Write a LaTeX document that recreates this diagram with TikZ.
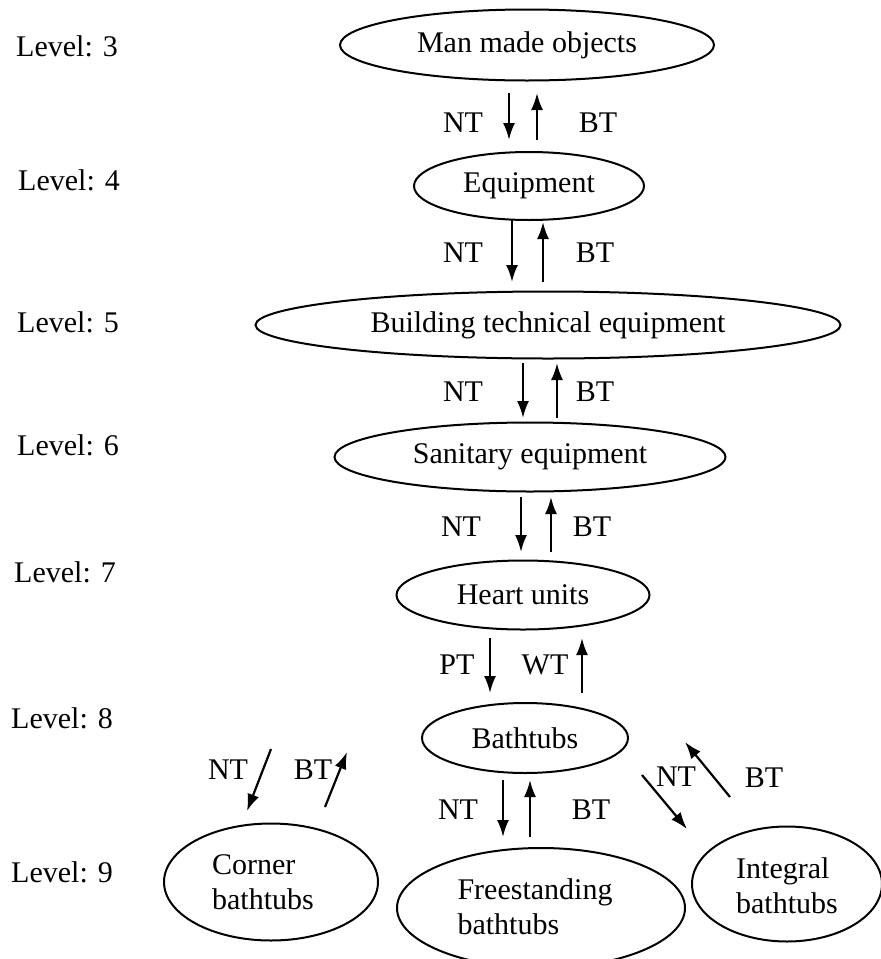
\documentclass[tikz,border=0pt]{standalone}
\usepackage{fontspec}
\setmainfont{Liberation Serif}
\usetikzlibrary{shapes.geometric,arrows.meta}
\tikzset{
  txt/.style={font=\fontsize{30}{35}\selectfont, inner sep=0pt},
  lvl/.style={txt, anchor=west},
  ell/.style={ellipse, draw, line width=2pt, inner sep=0pt, font=\fontsize{30}{35}\selectfont},
  arr/.style={line width=2.2pt, -{Latex[length=17pt,width=12pt]}}
}
\begin{document}
\begin{tikzpicture}[x=1pt,y=1pt]
\useasboundingbox (0,0) rectangle (881,-959);
% level labels
\node[lvl] (l3) at (16,-46) {Level: 3};
\node[lvl] (l4) at (18,-180) {Level: 4};
\node[lvl] (l5) at (17,-322) {Level: 5};
\node[lvl] (l6) at (17,-445) {Level: 6};
\node[lvl] (l7) at (14,-572) {Level: 7};
\node[lvl] (l8) at (11,-718) {Level: 8};
\node[lvl] (l9) at (11,-872) {Level: 9};
% ellipses
\node[ell, minimum width=374pt, minimum height=71pt] (m3) at (527,-45) {Man made objects};
\node[ell, minimum width=230pt, minimum height=68pt] (m4) at (529,-186) {Equipment};
\node[ell, minimum width=585pt, minimum height=67pt] (m5) at (548,-325) {Building technical equipment};
\node[ell, minimum width=391pt, minimum height=69pt] (m6) at (530,-457) {Sanitary equipment};
\node[ell, minimum width=253pt, minimum height=69pt] (m7) at (523,-595) {Heart units};
\node[ell, minimum width=206pt, minimum height=70pt] (m8) at (525,-738) {Bathtubs};
\node[ell, minimum width=214pt, minimum height=117pt] (c9) at (271,-882) {};
\node[ell, minimum width=288pt, minimum height=120pt] (f9) at (541,-908) {};
\node[ell, minimum width=190pt, minimum height=115pt] (i9) at (787,-884) {};
\node[txt, align=left] (c9t) at (263,-882) {Corner\\bathtubs};
\node[txt, align=left] (f9t) at (535,-907) {Freestanding\\bathtubs};
\node[txt, align=left] (i9t) at (787,-886) {Integral\\bathtubs};
% arrow end points
\coordinate (a1s) at (509,-93);  \coordinate (a1e) at (509,-140);
\coordinate (b1s) at (537,-140); \coordinate (b1e) at (537,-93);
\coordinate (a2s) at (512,-220); \coordinate (a2e) at (512,-282);
\coordinate (b2s) at (543,-282); \coordinate (b2e) at (543,-222);
\coordinate (a3s) at (523,-363); \coordinate (a3e) at (523,-418);
\coordinate (b3s) at (557,-418); \coordinate (b3e) at (557,-363);
\coordinate (a4s) at (521,-497); \coordinate (a4e) at (521,-552);
\coordinate (b4s) at (551,-552); \coordinate (b4e) at (551,-497);
\coordinate (a5s) at (490,-638); \coordinate (a5e) at (490,-693);
\coordinate (b5s) at (582,-693); \coordinate (b5e) at (582,-638);
\coordinate (a6s) at (503,-780); \coordinate (a6e) at (503,-837);
\coordinate (b6s) at (530,-837); \coordinate (b6e) at (530,-780);
\coordinate (a7s) at (271,-749); \coordinate (a7e) at (247,-811);
\coordinate (b7s) at (325,-807); \coordinate (b7e) at (347,-752);
\coordinate (a8s) at (642,-775); \coordinate (a8e) at (687,-829);
\coordinate (b8s) at (730,-797); \coordinate (b8e) at (685,-742);
\foreach \i in {1,...,8} {
  \draw[arr] (a\i s) -- (a\i e);
  \draw[arr] (b\i s) -- (b\i e);
}
% relation labels
\node[txt] (n1) at (463,-123) {NT};  \node[txt] (t1) at (598,-123) {BT};
\node[txt] (n2) at (463,-253) {NT};  \node[txt] (t2) at (595,-253) {BT};
\node[txt] (n3) at (463,-392) {NT};  \node[txt] (t3) at (595,-392) {BT};
\node[txt] (n4) at (461,-527) {NT};  \node[txt] (t4) at (592,-527) {BT};
\node[txt] (n5) at (457,-665) {PT};  \node[txt] (t5) at (545,-665) {WT};
\node[txt] (n6) at (458,-810) {NT};  \node[txt] (t6) at (591,-810) {BT};
\node[txt] (n7) at (228,-770) {NT};  \node[txt] (t7) at (313,-770) {BT};
\node[txt] (n8) at (676,-777) {NT};  \node[txt] (t8) at (764,-778) {BT};
\end{tikzpicture}
\end{document}
